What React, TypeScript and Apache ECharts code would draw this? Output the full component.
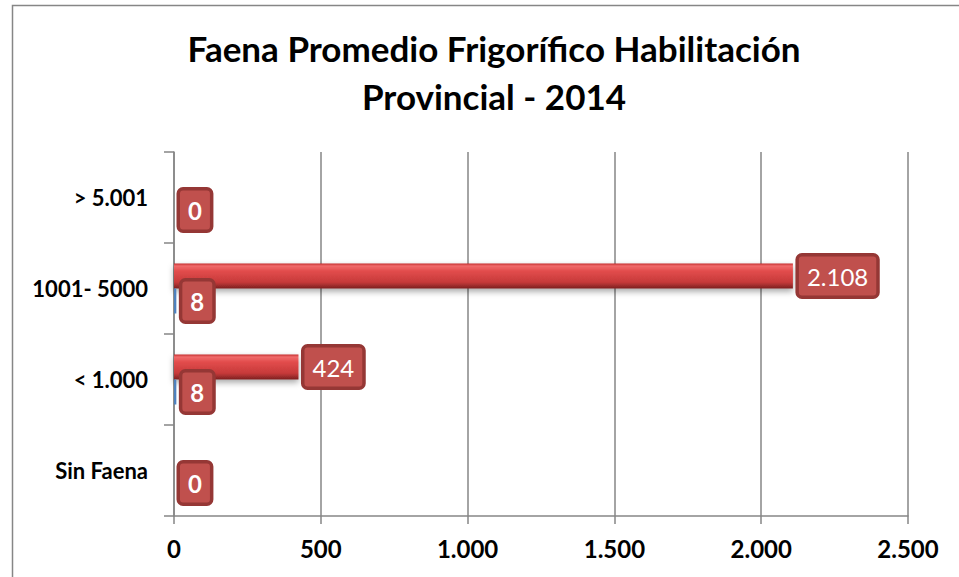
import React, { useEffect, useRef } from "react";
import * as echarts from "echarts";

const categories = ["Sin Faena", "< 1.000", "1001- 5000", "> 5.001"];
const establecimientos = [0, 8, 8, 0];
const faenaPromedio = [null, 424, 2108, null];
const xTicks = [0, 500, 1000, 1500, 2000, 2500];

const fmt = (v: number) => {
  const s = Math.round(v).toString();
  return s.replace(/\B(?=(\d{3})+(?!\d))/g, ".");
};

export default function App() {
  const ref = useRef<HTMLDivElement>(null);
  useEffect(() => {
    if (!ref.current) return;
    const chart = echarts.init(ref.current, null, { renderer: "svg" });
    const font = "Lato, 'Open Sans', sans-serif";
    const labelBox = {
      show: true,
      position: "right",
      distance: 6,
      color: "#fff",
      fontFamily: font,
      fontSize: 24,
      lineHeight: 26,
      backgroundColor: "#C0504D",
      borderColor: "#953735",
      borderWidth: 3.5,
      borderRadius: 3,
      padding: [7, 8, 6, 8],
    };
    chart.setOption({
      animation: false,
      backgroundColor: "#fff",
      title: {
        text: "Faena Promedio Frigorífico Habilitación\nProvincial - 2014",
        left: 489,
        textAlign: "center",
        top: 19,
        textStyle: {
          fontFamily: font,
          fontWeight: "bold",
          fontSize: 35,
          lineHeight: 48,
          color: "#000",
        },
      },
      graphic: [
        {
          type: "rect",
          shape: { x: 12.5, y: 5.5, width: 1000, height: 700 },
          style: { fill: "none", stroke: "#868686", lineWidth: 1.5 },
          silent: true,
        },
      ],
      grid: { left: 174, right: 51, top: 152, bottom: 61 },
      xAxis: {
        type: "value",
        min: 0,
        max: 2500,
        interval: 500,
        axisLine: { show: true, lineStyle: { color: "#868686", width: 1.5 } },
        axisTick: { show: true, length: 8, lineStyle: { color: "#868686", width: 1.5 } },
        splitLine: { show: true, lineStyle: { color: "#868686", width: 1.5 } },
        axisLabel: {
          margin: 20,
          fontFamily: font,
          fontWeight: "bold",
          fontSize: 24,
          color: "#000",
          formatter: (v: number) => (xTicks.includes(v) ? fmt(v) : ""),
        },
      },
      yAxis: {
        type: "category",
        data: categories,
        axisLine: { show: true, lineStyle: { color: "#868686", width: 1.5 } },
        axisTick: { show: true, length: 10, lineStyle: { color: "#868686", width: 1.5 } },
        axisLabel: {
          margin: 26,
          fontFamily: font,
          fontWeight: "bold",
          fontSize: 22,
          color: "#000",
        },
      },
      series: [
        {
          name: "Faena Promedio",
          type: "bar",
          data: faenaPromedio,
          barWidth: 25,
          barGap: "0%",
          itemStyle: {
            color: new echarts.graphic.LinearGradient(0, 0, 0, 1, [
              { offset: 0, color: "#c42e2e" },
              { offset: 0.1, color: "#f06a6a" },
              { offset: 0.3, color: "#e24c4c" },
              { offset: 0.75, color: "#c63a3a" },
              { offset: 1, color: "#7c2020" },
            ]),
            shadowBlur: 6,
            shadowOffsetY: 3,
            shadowColor: "rgba(0,0,0,0.35)",
          },
          label: {
            ...labelBox,
            fontWeight: "normal",
            formatter: (p: any) => fmt(p.value),
          },
        },
        {
          name: "Establecimientos",
          type: "bar",
          data: establecimientos,
          barWidth: 25,
          barGap: "0%",
          itemStyle: { color: "#4F81BD" },
          label: { ...labelBox, fontWeight: "bold" },
        },
      ],
    });
    return () => chart.dispose();
  }, []);
  return (
    <div
      ref={ref}
      style={{ position: "fixed", left: 0, top: 0, width: 959, height: 577 }}
    />
  );
}
